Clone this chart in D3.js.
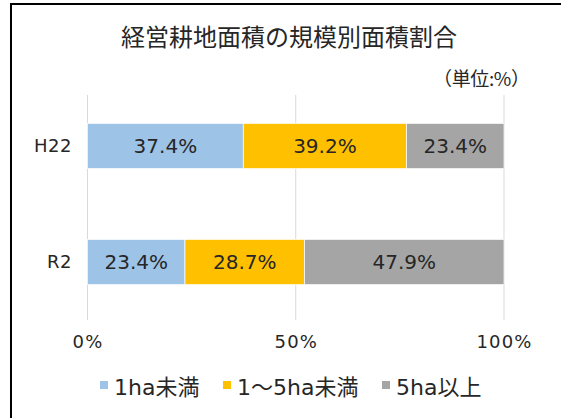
<!DOCTYPE html>
<html>
<head>
<meta charset="utf-8">
<script src="https://cdn.jsdelivr.net/npm/d3@7"></script>
<style>
  body { margin: 0; background: #fff; }
  svg text { font-family: "DejaVu Sans", "Noto Sans CJK JP", sans-serif; }
  svg text.cjk { font-family: "Noto Sans CJK JP", sans-serif; }
</style>
</head>
<body>
<div id="chart"></div>
<script>
var categories = ['H22', 'R2'];
var seriesNames = ['1ha未満', '1～5ha未満', '5ha以上'];
var small = [37.4, 23.4];
var middle = [39.2, 28.7];
var large = [23.4, 47.9];
var tickValues = [0, 50, 100];

var width = 561, height = 418;
var colors = ['#9dc3e6', '#ffc000', '#a5a5a5'];

var svg = d3.select('#chart').append('svg')
  .attr('width', width)
  .attr('height', height);

svg.append('rect').attr('width', width).attr('height', height).attr('fill', '#fff');

// frame
svg.append('rect')
  .attr('x', 11).attr('y', 4)
  .attr('width', 600).attr('height', 500)
  .attr('fill', 'none')
  .attr('stroke', '#000')
  .attr('stroke-width', 2);

svg.append('text')
  .attr('class', 'cjk')
  .attr('x', 289).attr('y', 46)
  .attr('text-anchor', 'middle')
  .attr('font-size', 24)
  .attr('fill', '#262626')
  .text('経営耕地面積の規模別面積割合');

svg.append('text')
  .attr('class', 'cjk')
  .attr('x', 433).attr('y', 86)
  .attr('font-size', 19)
  .attr('textLength', 97)
  .attr('lengthAdjust', 'spacing')
  .attr('fill', '#262626')
  .text('（単位:%）');

var x = d3.scaleLinear().domain([0, 100]).range([87.5, 504]);
var y = d3.scaleBand().domain(categories).range([88, 320])
  .paddingInner(0.61).paddingOuter(0.305);

// gridlines
svg.append('g').selectAll('line')
  .data(tickValues)
  .enter().append('line')
  .attr('x1', function(d) { return x(d); })
  .attr('x2', function(d) { return x(d); })
  .attr('y1', 95).attr('y2', 320)
  .attr('stroke', '#d9d9d9')
  .attr('stroke-width', 1);

var rows = categories.map(function(c, i) {
  return { cat: c, values: [small[i], middle[i], large[i]] };
});

rows.forEach(function(r) {
  var start = 0;
  r.values.forEach(function(v, j) {
    var g = svg.append('g');
    g.append('rect')
      .attr('x', x(start))
      .attr('y', y(r.cat))
      .attr('width', x(start + v) - x(start))
      .attr('height', y.bandwidth())
      .attr('fill', colors[j])
      .attr('stroke', '#fff')
      .attr('stroke-width', 0.7);
    g.append('text')
      .attr('x', x(start + v / 2))
      .attr('y', y(r.cat) + y.bandwidth() / 2)
      .attr('dy', '0.36em')
      .attr('text-anchor', 'middle')
      .attr('font-size', 20)
      .attr('fill', '#262626')
      .text(v.toFixed(1) + '%');
    start += v;
  });
});

// category labels
svg.append('g').selectAll('text')
  .data(categories)
  .enter().append('text')
  .attr('x', 72)
  .attr('y', function(d) { return y(d) + y.bandwidth() / 2; })
  .attr('dy', '0.36em')
  .attr('text-anchor', 'end')
  .attr('font-size', 18)
  .attr('letter-spacing', 0.5)
  .attr('fill', '#262626')
  .text(function(d) { return d; });

// x axis tick labels
svg.append('g').selectAll('text')
  .data(tickValues)
  .enter().append('text')
  .attr('x', function(d) { return x(d) + 0.5; })
  .attr('y', 348)
  .attr('text-anchor', 'middle')
  .attr('font-size', 18)
  .attr('letter-spacing', 1.1)
  .attr('fill', '#262626')
  .text(function(d) { return d + '%'; });

// legend
var legendX = [100, 223, 382];
var legend = svg.append('g').selectAll('g')
  .data(seriesNames)
  .enter().append('g')
  .attr('transform', function(d, i) { return 'translate(' + legendX[i] + ',395)'; });

legend.append('rect')
  .attr('x', 0).attr('y', -14)
  .attr('width', 8).attr('height', 8)
  .attr('fill', function(d, i) { return colors[i]; });

legend.append('text')
  .attr('x', 14).attr('y', 0)
  .attr('font-size', 22)
  .attr('fill', '#262626')
  .text(function(d) { return d; });
</script>
</body>
</html>
